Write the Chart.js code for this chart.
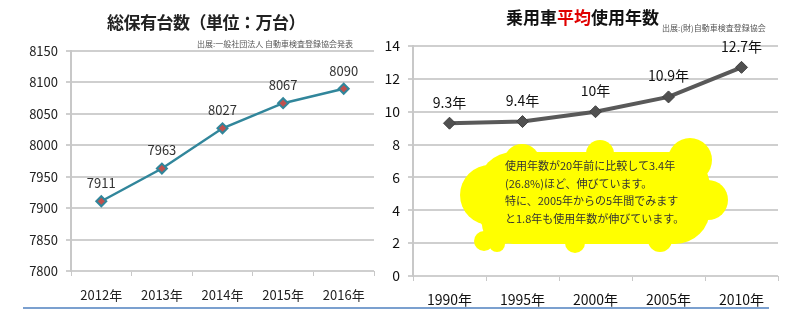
<!DOCTYPE html>
<html>
<head>
<meta charset="utf-8">
<script src="https://cdn.jsdelivr.net/npm/chart.js@4.4.1/dist/chart.umd.min.js"></script>
<style>
  body { margin: 0; background: #fff; width: 800px; height: 327px; position: relative; overflow: hidden;
         font-family: "Noto Sans CJK JP", sans-serif; }
  canvas { position: absolute; top: 0; }
  #c1 { left: 0; }
  #c2 { left: 380px; }
  .txt { position: absolute; white-space: nowrap; }
  #t1 { left: 107px; top: 9px; font-size: 17px; font-weight: 700; color: #222; letter-spacing: -0.5px; }
  #s1 { left: 197px; top: 38px; font-size: 8px; color: #555; }
  #t2 { left: 506px; top: 4px; font-size: 17px; font-weight: 700; color: #111; }
  #t2 span { color: #e00000; }
  #s2 { left: 662px; top: 22px; font-size: 8px; color: #555; }
  #memo { left: 505px; top: 157px; font-size: 11px; line-height: 17.5px; color: #333; }
  #rule { position: absolute; left: 23px; top: 307px; width: 746px; height: 2px; background: #7ba0cf; }
</style>
</head>
<body>
<canvas id="c1" width="400" height="327"></canvas>
<canvas id="c2" width="420" height="327"></canvas>
<div class="txt" id="t1">総保有台数（単位：万台）</div>
<div class="txt" id="s1">出展:一般社団法人 自動車検査登録協会発表</div>
<div class="txt" id="t2">乗用車<span>平均</span>使用年数</div>
<div class="txt" id="s2">出展:(財)自動車検査登録協会</div>
<div class="txt" id="memo">使用年数が20年前に比較して3.4年<br>(26.8%)ほど、伸びています。<br>特に、2005年からの5年間でみます<br>と1.8年も使用年数が伸びています。</div>
<div id="rule"></div>
<script>
// データ
var yearsA = ['2012年', '2013年', '2014年', '2015年', '2016年'];
var holdings = [7911, 7963, 8027, 8067, 8090];
var ticksA = { min: 7800, max: 8150, step: 50 };

var yearsB = ['1990年', '1995年', '2000年', '2005年', '2010年'];
var avgAge = [9.3, 9.4, 10, 10.9, 12.7];
var ageLabels = ['9.3年', '9.4年', '10年', '10.9年', '12.7年'];
var ticksB = { min: 0, max: 14, step: 2 };

var numFont = '"Noto Sans CJK JP", sans-serif';

// 値ラベル
var valueLabels = {
  id: 'valueLabels',
  afterDatasetsDraw: function (chart, args, opts) {
    var ctx = chart.ctx;
    var meta = chart.getDatasetMeta(0);
    ctx.save();
    ctx.font = opts.font;
    ctx.fillStyle = opts.color;
    ctx.textAlign = 'center';
    ctx.textBaseline = 'middle';
    meta.data.forEach(function (pt, i) {
      ctx.fillText(opts.texts[i], pt.x, pt.y - opts.offset);
    });
    ctx.restore();
  }
};

// 吹き出し（雲）
var cloud = {
  id: 'cloud',
  beforeDatasetsDraw: function (chart) {
    var ctx = chart.ctx;
    var ox = -380;
    var blobs = [
      [490, 195, 30], [502, 224, 20], [522, 162, 18], [600, 154, 14], [690, 160, 22],
      [708, 200, 20], [660, 240, 12], [575, 243, 10], [484, 241, 10], [497, 244, 8]
    ];
    ctx.save();
    ctx.fillStyle = '#ffff00';
    ctx.beginPath();
    ctx.roundRect(478 + ox, 152, 232, 92, 35);
    ctx.fill();
    blobs.forEach(function (b) {
      ctx.beginPath();
      ctx.arc(b[0] + ox, b[1], b[2], 0, Math.PI * 2);
      ctx.fill();
    });
    ctx.restore();
  }
};

function yFit(w) { return function (scale) { scale.width = w; }; }
function xFit(h) { return function (scale) { scale.height = h; }; }
function plain(v) { return String(v); }

new Chart(document.getElementById('c1'), {
  type: 'line',
  data: {
    labels: yearsA,
    datasets: [{
      data: holdings,
      borderColor: '#31869b',
      borderWidth: 2.5,
      pointStyle: 'rectRot',
      pointRadius: 5,
      pointBackgroundColor: '#c0504d',
      pointBorderColor: '#31869b',
      pointBorderWidth: 2,
      tension: 0
    }]
  },
  options: {
    responsive: false,
    devicePixelRatio: 1,
    animation: false,
    layout: { padding: { left: 0, right: 26, top: 51, bottom: 0 } },
    plugins: {
      legend: { display: false },
      tooltip: { enabled: false },
      valueLabels: { texts: holdings.map(String), font: '13px ' + numFont, color: '#333', offset: 18 }
    },
    scales: {
      x: {
        offset: true,
        afterFit: xFit(56),
        grid: { offset: true, drawOnChartArea: false, tickLength: 5, color: '#c8c8c8' },
        border: { display: false },
        ticks: { padding: 11, color: '#222', font: { family: numFont, size: 13 } }
      },
      y: {
        min: ticksA.min, max: ticksA.max,
        afterFit: yFit(71),
        grid: { color: '#cfcfcf', lineWidth: 2, tickLength: 5 },
        border: { color: '#c8c8c8', width: 2 },
        ticks: { stepSize: ticksA.step, padding: 8, color: '#222', callback: plain, font: { family: numFont, size: 13 } }
      }
    }
  },
  plugins: [valueLabels]
});

new Chart(document.getElementById('c2'), {
  type: 'line',
  data: {
    labels: yearsB,
    datasets: [{
      data: avgAge,
      borderColor: '#595959',
      borderWidth: 4,
      pointStyle: 'rectRot',
      pointRadius: 6,
      pointBackgroundColor: '#505050',
      pointBorderColor: '#404040',
      pointBorderWidth: 1,
      tension: 0
    }]
  },
  options: {
    responsive: false,
    devicePixelRatio: 1,
    animation: false,
    layout: { padding: { left: 0, right: 22, top: 46, bottom: 0 } },
    plugins: {
      legend: { display: false },
      tooltip: { enabled: false },
      valueLabels: { texts: ageLabels, font: '14px ' + numFont, color: '#111', offset: 21 }
    },
    scales: {
      x: {
        offset: true,
        afterFit: xFit(51),
        grid: { offset: true, drawOnChartArea: false, tickLength: 5, color: '#c8c8c8' },
        border: { display: false },
        ticks: { padding: 10, color: '#111', font: { family: numFont, size: 14 } }
      },
      y: {
        min: ticksB.min, max: ticksB.max,
        afterFit: yFit(33),
        grid: { color: '#cfcfcf', lineWidth: 2, tickLength: 5 },
        border: { color: '#c8c8c8', width: 2 },
        ticks: { stepSize: ticksB.step, padding: 8, color: '#111', font: { family: numFont, size: 14 } }
      }
    }
  },
  plugins: [cloud, valueLabels]
});
</script>
</body>
</html>
